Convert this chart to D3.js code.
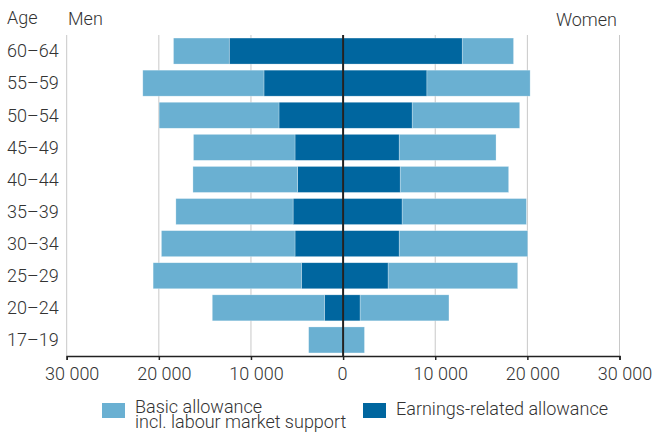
<!DOCTYPE html>
<html>
<head>
<meta charset="utf-8">
<script src="https://cdn.jsdelivr.net/npm/d3@7"></script>
<style>
  body { margin: 0; background: #fff; }
  svg text { font-family: Roboto, "Liberation Sans", sans-serif; font-weight: 300; fill: #333; }
</style>
</head>
<body>
<script>
// age groups, top to bottom
var ages = ["60–64", "55–59", "50–54", "45–49", "40–44", "35–39", "30–34", "25–29", "20–24", "17–19"];

// men
var menEarnings = [12360, 8590, 6960, 5220, 4930, 5430, 5220, 4530, 2030, 0];
var menBasic    = [6050, 13150, 13010, 11020, 11370, 12720, 14500, 16090, 12170, 3740];

// women
var womenEarnings = [12930, 9100, 7500, 6090, 6200, 6410, 6090, 4890, 1850, 0];
var womenBasic    = [5570, 11200, 11670, 10510, 11770, 13490, 13950, 14060, 9640, 2320];

var xTicks = [-30000, -20000, -10000, 0, 10000, 20000, 30000];
var legendLabels = [["Basic allowance", "incl. labour market support"], ["Earnings-related allowance"]];

var lightBlue = "#6ab0d2", darkBlue = "#00669f";

var width = 656, height = 433;

var svg = d3.select("body").append("svg")
    .attr("width", width)
    .attr("height", height);

var x = d3.scaleLinear().domain([-30000, 30000]).range([66.7, 619.5]);
var y = d3.scaleBand().domain(ages).range([35, 356]).paddingInner(0.19).paddingOuter(0.095);

// grid
svg.append("g")
    .selectAll("line")
    .data(xTicks.filter(d => d != 0))
    .join("line")
    .attr("x1", d => x(d)).attr("x2", d => x(d))
    .attr("y1", 35).attr("y2", 356)
    .attr("stroke", "#c8c8c8")
    .attr("stroke-width", 1);

// build rows: earnings next to zero, basic outside
var rows = ages.map((a, i) => ({
    age: a,
    segs: [
        {x0: -menEarnings[i], x1: 0, c: darkBlue},
        {x0: -(menEarnings[i] + menBasic[i]), x1: -menEarnings[i], c: lightBlue},
        {x0: 0, x1: womenEarnings[i], c: darkBlue},
        {x0: womenEarnings[i], x1: womenEarnings[i] + womenBasic[i], c: lightBlue}
    ]
}));

svg.append("g")
    .selectAll("g")
    .data(rows)
    .join("g")
    .attr("transform", d => `translate(0,${y(d.age)})`)
    .selectAll("rect")
    .data(d => d.segs.filter(s => s.x1 - s.x0 > 0))
    .join("rect")
    .attr("x", s => x(s.x0))
    .attr("width", s => x(s.x1) - x(s.x0))
    .attr("height", y.bandwidth())
    .attr("fill", s => s.c)
    .attr("stroke", "#fff")
    .attr("stroke-opacity", 0.45)
    .attr("stroke-width", 0.6);

// zero line
svg.append("line")
    .attr("x1", x(0)).attr("x2", x(0))
    .attr("y1", 35).attr("y2", 356)
    .attr("stroke", "#222")
    .attr("stroke-width", 2);

// x axis
var xAxis = svg.append("g")
    .attr("transform", "translate(0,356)")
    .call(d3.axisBottom(x)
        .tickValues(xTicks)
        .tickSize(4)
        .tickPadding(7)
        .tickFormat(d => d3.format(",")(Math.abs(d)).replace(/,/g, " ")));
xAxis.attr("font-family", null);
xAxis.select(".domain").attr("stroke", "#222").attr("stroke-width", 1.5);
xAxis.selectAll(".tick line").attr("stroke", "#222").attr("stroke-width", 1.5);
xAxis.selectAll("text")
    .attr("font-size", 18)
    .attr("dx", d => d == 0 ? -1 : 5)
    .style("fill", "#333");

// age labels
svg.append("g")
    .selectAll("text")
    .data(ages)
    .join("text")
    .attr("x", 7)
    .attr("y", d => y(d) + y.bandwidth() / 2)
    .attr("dy", "0.35em")
    .attr("font-size", 18)
    .text(d => d);

// headers
svg.append("text").attr("x", 7).attr("y", 24).attr("font-size", 18).text("Age");
svg.append("text").attr("x", 68).attr("y", 25).attr("font-size", 18).text("Men");
svg.append("text").attr("x", 617).attr("y", 26).attr("font-size", 18)
    .attr("text-anchor", "end").text("Women");

// legend
var legend = svg.append("g");
var legendItems = [
    {x: 102, c: lightBlue, lines: legendLabels[0]},
    {x: 363, c: darkBlue, lines: legendLabels[1]}
];
legendItems.forEach(function(item) {
    legend.append("rect")
        .attr("x", item.x).attr("y", 403)
        .attr("width", 23).attr("height", 15)
        .attr("fill", item.c);
    var t = legend.append("text")
        .attr("x", item.x + 33)
        .attr("y", item.lines.length > 1 ? 413 : 415)
        .attr("font-size", 18);
    item.lines.forEach(function(l, j) {
        t.append("tspan")
            .attr("x", item.x + 33)
            .attr("dy", j == 0 ? 0 : 14.5)
            .text(l);
    });
});
</script>
</body>
</html>
